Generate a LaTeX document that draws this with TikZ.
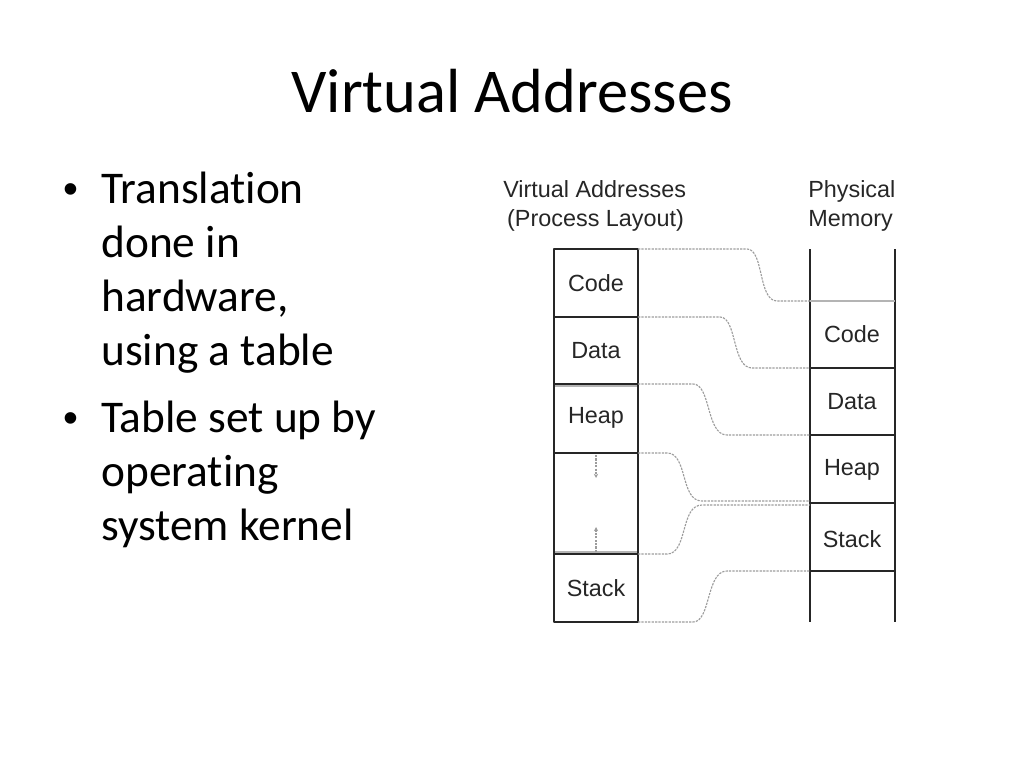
\documentclass[tikz,border=0pt]{standalone}
\usepackage{fontspec}
\setmainfont{Carlito}[Ligatures=NoCommon]
\newfontfamily\figfont{Liberation Sans}
\usetikzlibrary{arrows.meta, positioning, calc}
\definecolor{figgray}{HTML}{262626}
\definecolor{softgray}{HTML}{B4B4B4}
\definecolor{linkgray}{HTML}{9C9C9C}

\begin{document}
\begin{tikzpicture}[x=0.0248cm, y=-0.0248cm, line join=round,
    bullettext/.style={anchor=base west, inner sep=0pt, font=\fontsize{32}{38}\selectfont},
    figlabel/.style={font=\figfont\fontsize{16.5}{20}\selectfont, text=figgray, inner sep=0pt},
    wall/.style={draw=figgray, line width=1.4pt},
    softwall/.style={draw=softgray, line width=2pt},
    link/.style={draw=linkgray, dash pattern=on 1.6pt off 0.8pt, line width=0.8pt}]
    \useasboundingbox (0,0) rectangle (1024,768);

    % title and bullets
    \node[font=\fontsize{44}{53}\selectfont, anchor=base, inner sep=0pt] (title) at (512,113) {Virtual Addresses};
    \node[bullettext, font=\figfont\fontsize{30}{36}\selectfont] (bulA) at (63,203) {\textbullet};
    \foreach \txt [count=\i from 0] in {Translation, done in, {hardware,}, using a table}
        \node[bullettext] (lineA\i) at (101,203+54*\i) {\txt};
    \node[bullettext, font=\figfont\fontsize{30}{36}\selectfont] (bulB) at (63,432) {\textbullet};
    \foreach \txt [count=\i from 0] in {Table set up by, operating, system kernel}
        \node[bullettext] (lineB\i) at (101,432+54*\i) {\txt};

    % column headings
    \node[figlabel, align=left, anchor=west] (vhead) at (503,206) {Virtual Addresses\\\,(Process Layout)};
    \node[figlabel, align=left, anchor=west] (phead) at (808,206) {Physical\\Memory};

    % process layout
    \coordinate (v0) at (638,249);
    \coordinate (v1) at (638,317);
    \coordinate (v2) at (638,384);
    \coordinate (v3) at (638,453);
    \coordinate (v4) at (638,554);
    \coordinate (v5) at (638,622);
    \draw[softwall] (554,386) -- (638,386);
    \draw[softwall] (554,552) -- (638,552);
    \draw[wall] (554,249) rectangle (v5);
    \foreach \k in {1,...,4}
        \draw[wall] (554,0 |- v\k) -- (v\k);
    \node[figlabel] (vcode)  at (596,283) {Code};
    \node[figlabel] (vdata)  at (596,351) {Data};
    \node[figlabel] (vheap)  at (596,418) {Heap};
    \node[figlabel] (vstack) at (596,588) {Stack};
    \coordinate (growdown) at (596,478);
    \coordinate (growup)   at (596,527);
    \draw[link, -{Stealth[length=3pt, width=3pt]}] (596,455) -- (growdown);
    \draw[link, -{Stealth[length=3pt, width=3pt]}] (596,552) -- (growup);

    % physical memory
    \coordinate (p0) at (810,301);
    \coordinate (p1) at (810,368);
    \coordinate (p2) at (810,435);
    \coordinate (p3) at (810,503);
    \coordinate (p4) at (810,571);
    \draw[wall] (810,249) -- (810,622);
    \draw[wall] (895,249) -- (895,622);
    \draw[softwall] (p0) -- (895,301);
    \foreach \k in {1,...,4}
        \draw[wall] (p\k) -- (895,0 |- p\k);
    \node[figlabel] (pcode)  at (852,334) {Code};
    \node[figlabel] (pdata)  at (852,402) {Data};
    \node[figlabel] (pheap)  at (852,470) {Heap};
    \node[figlabel] (pstack) at (852,539) {Stack};

    % translation links
    \draw[link] (v0) -- (747,249) .. controls (764,249) and (758,301) .. (777,301) -- (p0);
    \draw[link] (v1) -- (720,317) .. controls (737,317) and (732,368) .. (752,368) -- (p1);
    \draw[link] (v2) -- (693,384) .. controls (711,384) and (706,435) .. (727,435) -- (p2);
    \draw[link] (v3) -- (667,453) .. controls (688,453) and (680,501) .. (702,501) -- ($(p3)+(0,-2)$);
    \draw[link] (v4) -- (667,554) .. controls (688,554) and (680,505) .. (702,505) -- ($(p3)+(0,2)$);
    \draw[link] (v5) -- (693,622) .. controls (711,622) and (706,571) .. (727,571) -- (p4);
\end{tikzpicture}
\end{document}
